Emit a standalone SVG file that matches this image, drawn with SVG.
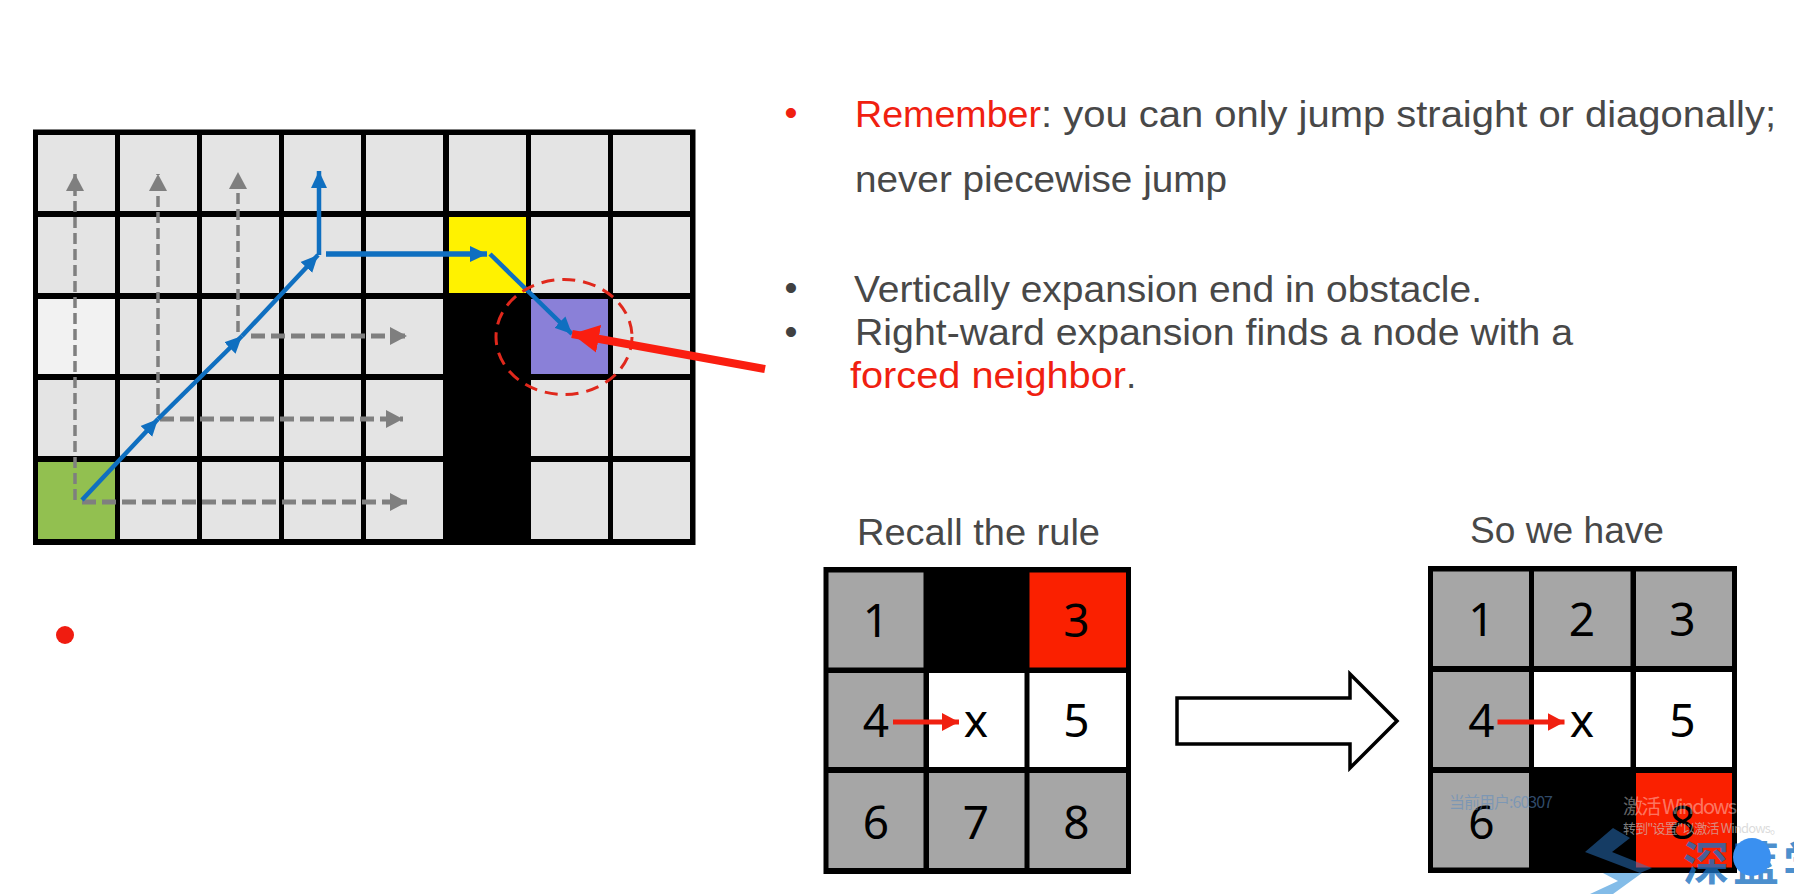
<svg xmlns="http://www.w3.org/2000/svg" width="1794" height="894" viewBox="0 0 1794 894">
<style>
text{font-family:"Liberation Sans","Noto Sans",sans-serif}
.t{font-size:37px;fill:#484848}
.b{font-size:37px;fill:#404040;text-anchor:middle}
.r{fill:#f02010}
.n{font-size:46px;fill:#000;text-anchor:middle;font-family:"Noto Sans",sans-serif}
.g{fill:#e4e4e4}
.gr{fill:#a6a6a6}
.dash{fill:none;stroke:#7f7f7f;stroke-width:3.500;stroke-dasharray:11 5}
.dash2{fill:none;stroke:#7f7f7f;stroke-width:5;stroke-dasharray:14 6}
.blue{fill:none;stroke:#0f6fc0;stroke-width:4.500}
.sm{fill:none;stroke:#f02010;stroke-width:5}
.wm{font-family:"Noto Sans CJK SC","Noto Sans",sans-serif}
</style>
<defs>
<marker id="ag" markerUnits="userSpaceOnUse" markerWidth="18" markerHeight="20" refX="17" refY="10" orient="auto"><path d="M0 1L17 10L0 19Z" fill="#7f7f7f"/></marker>
<marker id="ab" markerUnits="userSpaceOnUse" markerWidth="18" markerHeight="20" refX="17" refY="10" orient="auto"><path d="M0 2L17 10L0 18Z" fill="#0f6fc0"/></marker>
<marker id="ar" markerUnits="userSpaceOnUse" markerWidth="18" markerHeight="20" refX="17" refY="10" orient="auto"><path d="M0 1L17 10L0 19Z" fill="#f02010"/></marker>
<marker id="arb" markerUnits="userSpaceOnUse" markerWidth="28" markerHeight="32" refX="27" refY="16" orient="auto"><path d="M0 2L27 16L0 30Z" fill="#fa1e10"/></marker>
</defs>
<rect width="1794" height="894" fill="#fff"/>
<g id="grid">
<rect x="33" y="129.500" width="662.500" height="415.500" fill="#000"/>
<g class="g">
<rect x="38" y="135" width="77" height="76"/><rect x="120" y="135" width="77" height="76"/><rect x="202" y="135" width="77" height="76"/><rect x="284" y="135" width="77" height="76"/><rect x="366" y="135" width="77" height="76"/><rect x="449" y="135" width="77" height="76"/><rect x="531" y="135" width="77" height="76"/><rect x="613" y="135" width="77" height="76"/>
<rect x="38" y="217" width="77" height="76"/><rect x="120" y="217" width="77" height="76"/><rect x="202" y="217" width="77" height="76"/><rect x="284" y="217" width="77" height="76"/><rect x="366" y="217" width="77" height="76"/><rect x="531" y="217" width="77" height="76"/><rect x="613" y="217" width="77" height="76"/>
<rect x="120" y="299" width="77" height="75"/><rect x="202" y="299" width="77" height="75"/><rect x="284" y="299" width="77" height="75"/><rect x="366" y="299" width="77" height="75"/><rect x="613" y="299" width="77" height="75"/>
<rect x="38" y="380" width="77" height="76"/><rect x="120" y="380" width="77" height="76"/><rect x="202" y="380" width="77" height="76"/><rect x="284" y="380" width="77" height="76"/><rect x="366" y="380" width="77" height="76"/><rect x="531" y="380" width="77" height="76"/><rect x="613" y="380" width="77" height="76"/>
<rect x="120" y="462" width="77" height="77"/><rect x="202" y="462" width="77" height="77"/><rect x="284" y="462" width="77" height="77"/><rect x="366" y="462" width="77" height="77"/><rect x="531" y="462" width="77" height="77"/><rect x="613" y="462" width="77" height="77"/>
</g>
<rect x="38" y="299" width="77" height="75" fill="#f2f2f2"/>
<rect x="38" y="462" width="77" height="77" fill="#92c050"/>
<rect x="449" y="217" width="77" height="76" fill="#fff200"/>
<rect x="531" y="299" width="77" height="75" fill="#8a80d8"/>
</g>
<g id="connectors">
<path class="dash" d="M75 500V174" marker-end="url(#ag)"/>
<path class="dash" d="M158 415V174" marker-end="url(#ag)"/>
<path class="dash" d="M238 332V172" marker-end="url(#ag)"/>
<path class="dash2" d="M82 502H407" marker-end="url(#ag)"/>
<path class="dash2" d="M160 419H403" marker-end="url(#ag)"/>
<path class="dash2" d="M251 336H407" marker-end="url(#ag)"/>
<path class="blue" d="M82 500L158 419" marker-end="url(#ab)"/>
<path class="blue" d="M158 419L242 336" marker-end="url(#ab)"/>
<path class="blue" d="M242 336L318 255" marker-end="url(#ab)"/>
<path class="blue" d="M319 255V171" marker-end="url(#ab)"/>
<path class="blue" style="stroke-width:5.500" d="M326 254H487" marker-end="url(#ab)"/>
<path class="blue" d="M490 254L572 334" marker-end="url(#ab)"/>
<ellipse cx="564" cy="337" rx="68" ry="57.500" fill="none" stroke="#e0281c" stroke-width="3" stroke-dasharray="13 8"/>
<path d="M765 369L572 334" fill="none" stroke="#fa1e10" stroke-width="8" marker-end="url(#arb)"/>
</g>
<circle id="dot" cx="65" cy="635" r="9" fill="#f01c10"/>
<g id="notes">
<text class="b r" x="791" y="125">•</text>
<text class="t r" x="855" y="127" textLength="186" lengthAdjust="spacingAndGlyphs">Remember</text>
<text class="t" x="1041" y="127" textLength="735" lengthAdjust="spacingAndGlyphs">: you can only jump straight or diagonally;</text>
<text class="t" x="855" y="192" textLength="372" lengthAdjust="spacingAndGlyphs">never piecewise jump</text>
<text class="b" x="791" y="300">•</text>
<text class="t" x="854" y="302" textLength="628" lengthAdjust="spacingAndGlyphs">Vertically expansion end in obstacle.</text>
<text class="b" x="791" y="344">•</text>
<text class="t" x="855" y="345" textLength="718" lengthAdjust="spacingAndGlyphs">Right-ward expansion finds a node with a</text>
<text class="t r" x="850" y="388" textLength="276" lengthAdjust="spacingAndGlyphs">forced neighbor</text>
<text class="t" x="1126" y="388">.</text>
<text class="t" x="857" y="545" textLength="243" lengthAdjust="spacingAndGlyphs">Recall the rule</text>
<text class="t" x="1470" y="543" textLength="194" lengthAdjust="spacingAndGlyphs">So we have</text>
</g>
<g id="table-left">
<rect x="823.500" y="567" width="307.500" height="307" fill="#000"/>
<rect class="gr" x="828.500" y="572.500" width="95" height="95"/>
<rect x="1029.500" y="572.500" width="96.500" height="95" fill="#fa2000"/>
<rect class="gr" x="828.500" y="673" width="95" height="94"/>
<rect x="929" y="673" width="95.500" height="94" fill="#fff"/>
<rect x="1029.500" y="673" width="96.500" height="94" fill="#fff"/>
<rect class="gr" x="828.500" y="773" width="95" height="95"/>
<rect class="gr" x="929" y="773" width="95.500" height="95"/>
<rect class="gr" x="1029.500" y="773" width="96.500" height="95"/>
<text class="n" x="876" y="637">1</text><text class="n" x="1076.500" y="637">3</text>
<text class="n" x="876" y="737">4</text><text class="n" x="976" y="737">x</text><text class="n" x="1076.500" y="737">5</text>
<text class="n" x="876" y="839">6</text><text class="n" x="976" y="839">7</text><text class="n" x="1076.500" y="839">8</text>
<path class="sm" d="M893 722H959" marker-end="url(#ar)"/>
</g>
<path id="block-arrow" d="M1177 698H1350V674L1397 721L1350 768V744H1177Z" fill="#fff" stroke="#000" stroke-width="3.500"/>
<g id="table-right">
<rect x="1428" y="566" width="309" height="307" fill="#000"/>
<rect class="gr" x="1433" y="571.500" width="96" height="94.500"/>
<rect class="gr" x="1534" y="571.500" width="96.500" height="94.500"/>
<rect class="gr" x="1636" y="571.500" width="96" height="94.500"/>
<rect class="gr" x="1433" y="672" width="96" height="95"/>
<rect x="1534" y="672" width="96.500" height="95" fill="#fff"/>
<rect x="1636" y="672" width="96" height="95" fill="#fff"/>
<rect class="gr" x="1433" y="773" width="96" height="94.500"/>
<rect x="1636" y="773" width="96" height="94.500" fill="#fa2000"/>
<text class="n" x="1481.500" y="636">1</text><text class="n" x="1582" y="636">2</text><text class="n" x="1682.500" y="636">3</text>
<text class="n" x="1481.500" y="737">4</text><text class="n" x="1582" y="737">x</text><text class="n" x="1682.500" y="737">5</text>
<text class="n" x="1481.500" y="839">6</text><text class="n" x="1682.500" y="839">8</text>
<path class="sm" d="M1497.500 722H1564.500" marker-end="url(#ar)"/>
</g>
<g id="watermark">
<text class="wm" x="1449" y="808" font-size="16" fill="#5a8ac0" fill-opacity=".55" textLength="104">当前用户:60307</text>
<text class="wm" x="1623" y="814" font-size="20" fill="#fff" fill-opacity=".4" textLength="114">激活 Windows</text>
<text class="wm" x="1623" y="833" font-size="13" fill="#c8c8c8" fill-opacity=".65" textLength="160">转到"设置"以激活 Windows。</text>
<path d="M1613 828L1585 852L1640 873L1652 868L1612 852L1630 838Z" fill="#2a78c8" fill-opacity=".5"/>
<path d="M1603 873L1642 873L1613 894L1590 894L1618 881Z" fill="#5aa5e0" fill-opacity=".75"/>
<text class="wm" x="1683" y="880" font-size="46" font-weight="700" fill="#1a70c0" fill-opacity=".8" letter-spacing="4">深蓝学</text>
<circle cx="1752" cy="857" r="19" fill="#3a90f0"/>
</g>
</svg>
